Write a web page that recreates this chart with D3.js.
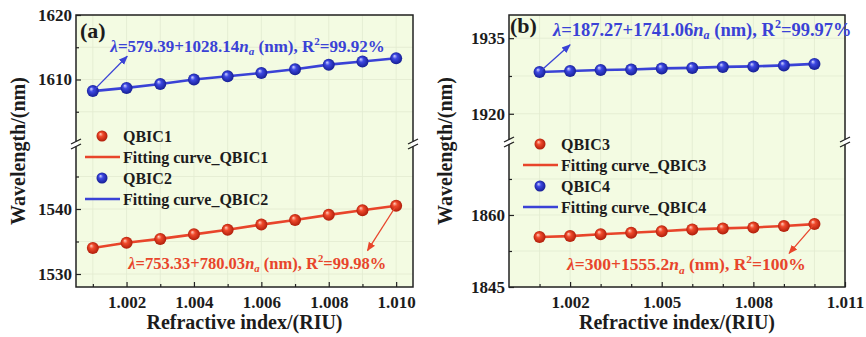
<!DOCTYPE html>
<html>
<head>
<meta charset="utf-8">
<script src="https://cdn.jsdelivr.net/npm/d3@7"></script>
<style>
  body { margin: 0; background: #fff; }
  svg { display: block; }
  text { font-family: "Liberation Serif", "Times New Roman", serif; font-weight: bold; fill: #1c1c1c; }
</style>
</head>
<body>
<svg width="866" height="337"></svg>
<script>
// refractive index samples (same for both panels)
const riu = [1.001, 1.002, 1.003, 1.004, 1.005, 1.006, 1.007, 1.008, 1.009, 1.010];

// wavelengths (nm)
const qbic1 = [1534.0, 1534.8, 1535.4, 1536.1, 1536.8, 1537.6, 1538.3, 1539.1, 1539.8, 1540.5];
const qbic2 = [1608.2, 1608.7, 1609.3, 1610.0, 1610.5, 1611.0, 1611.6, 1612.3, 1612.8, 1613.3];
const qbic3 = [1855.4, 1855.6, 1856.0, 1856.3, 1856.6, 1857.0, 1857.2, 1857.4, 1857.7, 1858.1];
const qbic4 = [1928.3, 1928.5, 1928.7, 1928.8, 1929.0, 1929.1, 1929.3, 1929.4, 1929.6, 1929.9];

// tick values
const xTicksA = [1.002, 1.004, 1.006, 1.008, 1.010];
const xMinorA = [1.001, 1.003, 1.005, 1.007, 1.009];
const xTicksB = [1.002, 1.005, 1.008, 1.011];
const xMinorB = [1.001, 1.003, 1.004, 1.006, 1.007, 1.009, 1.010];
const yTopTicksA = [1610, 1620], yTopMinorA = [1605, 1615];
const yBotTicksA = [1530, 1540], yBotMinorA = [1535, 1545];
const yTopTicksB = [1920, 1935], yTopMinorB = [1927.5];
const yBotTicksB = [1845, 1860], yBotMinorB = [1852.5, 1867.5];

const BLUE = "#3a42d6", RED = "#e8452b";

const svg = d3.select("svg");
const defs = svg.append("defs");

function sphereGrad(id, hi, mid, dark) {
  const gr = defs.append("radialGradient").attr("id", id)
    .attr("cx", "50%").attr("cy", "50%").attr("r", "55%")
    .attr("fx", "35%").attr("fy", "30%");
  gr.append("stop").attr("offset", "0%").attr("stop-color", hi);
  gr.append("stop").attr("offset", "35%").attr("stop-color", mid);
  gr.append("stop").attr("offset", "100%").attr("stop-color", dark);
}
sphereGrad("ballRed", "#ffd0c0", "#f04a2c", "#a81806");
sphereGrad("ballBlue", "#d6d8ff", "#3d48e2", "#121a8c");

function arrowMarker(id, col) {
  defs.append("marker").attr("id", id)
    .attr("viewBox", "0 0 10 10").attr("refX", 9).attr("refY", 5)
    .attr("markerWidth", 7).attr("markerHeight", 7).attr("orient", "auto")
    .append("path").attr("d", "M0,1 L10,5 L0,9 Z").attr("fill", col);
}
arrowMarker("arrBlue", BLUE);
arrowMarker("arrRed", RED);

// equation text with italic lambda, n_a and R^2
function equation(g, x, y, size, col, a, b, r2) {
  const t = g.append("text").attr("x", x).attr("y", y)
    .style("font-size", size + "px").style("fill", col);
  t.append("tspan").style("font-style", "italic").text("λ");
  t.append("tspan").text("=" + a + "+" + b);
  t.append("tspan").style("font-style", "italic").text("n");
  t.append("tspan").style("font-style", "italic").style("font-size", "0.65em").attr("dy", "0.3em").text("a");
  t.append("tspan").attr("dy", "-0.2em").text(" (nm), R");
  t.append("tspan").style("font-size", "0.65em").attr("dy", "-0.6em").text("2");
  t.append("tspan").attr("dy", "0.4em").text("=" + r2);
}

function drawPanel(p) {
  const g = svg.append("g");
  const x = d3.scaleLinear().domain(p.xDomain).range([p.left, p.right]);
  const yTop = d3.scaleLinear().domain(p.yTopDomain).range([p.breakY, p.top]);
  const yBot = d3.scaleLinear().domain(p.yBotDomain).range([p.bottom, p.breakY]);
  const y = v => v >= p.yTopDomain[0] ? yTop(v) : yBot(v);

  g.append("rect").attr("x", p.left).attr("y", p.top)
    .attr("width", p.right - p.left).attr("height", p.bottom - p.top)
    .attr("fill", "#f3fbe2");

  // faint grid
  g.selectAll(".vgrid").data(p.xTicks.concat(p.xMinor)).enter().append("line")
    .attr("x1", d => x(d)).attr("x2", d => x(d))
    .attr("y1", p.top).attr("y2", p.bottom)
    .attr("stroke", "#e2ebd0").attr("stroke-width", 0.8);
  g.selectAll(".hgrid").data(p.yTopTicks.concat(p.yTopMinor, p.yBotTicks, p.yBotMinor)).enter().append("line")
    .attr("x1", p.left).attr("x2", p.right)
    .attr("y1", d => y(d)).attr("y2", d => y(d))
    .attr("stroke", "#e2ebd0").attr("stroke-width", 0.8);

  // axes, ticks point inward
  const xa = g.append("g").attr("transform", "translate(0," + p.bottom + ")")
    .call(d3.axisBottom(x).tickValues(p.xTicks).tickSizeInner(-5).tickSizeOuter(0)
      .tickPadding(9).tickFormat(d3.format(".3f")));
  g.append("g").attr("transform", "translate(0," + p.bottom + ")")
    .call(d3.axisBottom(x).tickValues(p.xMinor).tickSizeInner(-3).tickSizeOuter(0).tickFormat(""));
  const ya1 = g.append("g").attr("transform", "translate(" + p.left + ",0)")
    .call(d3.axisLeft(yTop).tickValues(p.yTopTicks).tickSizeInner(-5).tickSizeOuter(0)
      .tickPadding(4).tickFormat(d3.format("d")));
  const ya2 = g.append("g").attr("transform", "translate(" + p.left + ",0)")
    .call(d3.axisLeft(yBot).tickValues(p.yBotTicks).tickSizeInner(-5).tickSizeOuter(0)
      .tickPadding(4).tickFormat(d3.format("d")));
  g.append("g").attr("transform", "translate(" + p.left + ",0)")
    .call(d3.axisLeft(yTop).tickValues(p.yTopMinor).tickSizeInner(-3).tickSizeOuter(0).tickFormat(""));
  g.append("g").attr("transform", "translate(" + p.left + ",0)")
    .call(d3.axisLeft(yBot).tickValues(p.yBotMinor).tickSizeInner(-3).tickSizeOuter(0).tickFormat(""));
  g.selectAll(".domain").remove();
  g.selectAll(".tick line").attr("stroke", "#222").attr("stroke-width", 1.2);
  [xa, ya1, ya2].forEach(a => a.selectAll("text")
    .style("font-size", "17px").style("font-family", "'Liberation Serif', serif")
    .style("font-weight", "bold").attr("fill", "#1c1c1c"));

  // frame
  g.append("rect").attr("x", p.left).attr("y", p.top)
    .attr("width", p.right - p.left).attr("height", p.bottom - p.top)
    .attr("fill", "none").attr("stroke", "#222").attr("stroke-width", 1.5);

  // axis break marks
  [p.left, p.right].forEach(bx => {
    g.append("rect").attr("x", bx - 2).attr("y", p.breakY - 2.5).attr("width", 4).attr("height", 5).attr("fill", "#fff");
    [-2.5, 2.5].forEach(o => g.append("line")
      .attr("x1", bx - 5).attr("y1", p.breakY + o + 2.5)
      .attr("x2", bx + 5).attr("y2", p.breakY + o - 2.5)
      .attr("stroke", "#222").attr("stroke-width", 1.3));
  });

  // series
  const line = d3.line().x(d => x(d[0])).y(d => y(d[1]));
  p.series.forEach(s => {
    const pts = riu.map((r, i) => [r, s.values[i]]);
    g.append("path").datum(pts).attr("d", line)
      .attr("fill", "none").attr("stroke", s.color).attr("stroke-width", 2.6);
    g.selectAll(null).data(pts).enter().append("circle")
      .attr("cx", d => x(d[0])).attr("cy", d => y(d[1])).attr("r", 6)
      .attr("fill", "url(#" + s.ball + ")");
  });

  // legend
  const lg = g.append("g").attr("transform", "translate(" + (p.left + p.legendDx) + "," + p.legendY + ")");
  p.series.forEach((s, i) => {
    const r0 = i * 42;
    lg.append("circle").attr("cx", 17).attr("cy", r0).attr("r", 5.5).attr("fill", "url(#" + s.ball + ")");
    lg.append("text").attr("x", 38).attr("y", r0 + 5.5).style("font-size", "16px").text(s.name);
    lg.append("line").attr("x1", 0).attr("x2", 35).attr("y1", r0 + 21).attr("y2", r0 + 21)
      .attr("stroke", s.color).attr("stroke-width", 2.4);
    lg.append("text").attr("x", 38).attr("y", r0 + 26.5).style("font-size", "16px").text("Fitting curve_" + s.name);
  });

  // equations with arrows
  p.notes.forEach(n => {
    const s = p.series[n.series];
    const last = n.from === "first" ? 0 : riu.length - 1;
    g.append("line")
      .attr("x1", x(riu[last])).attr("y1", y(s.values[last]))
      .attr("x2", x(n.to[0])).attr("y2", y(n.to[1]))
      .attr("stroke", s.color).attr("stroke-width", 1.3)
      .attr("marker-end", "url(#" + s.arrow + ")");
    equation(g, x(n.at[0]), y(n.at[1]), n.size, s.color, n.eq[0], n.eq[1], n.eq[2]);
  });

  g.append("text").attr("x", p.left + p.labelDx).attr("y", p.top + p.labelDy)
    .style("font-size", "22px").text(p.label);

  g.append("text").attr("x", (p.left + p.right) / 2).attr("y", 329)
    .attr("text-anchor", "middle").style("font-size", "20px").text("Refractive index/(RIU)");
  g.append("text").attr("transform", "translate(" + p.yTitleX + ",151) rotate(-90)")
    .attr("text-anchor", "middle").attr("dy", "0.35em").style("font-size", "20px").text("Wavelength/(nm)");
}

drawPanel({
  left: 76, right: 413, top: 15, bottom: 287, breakY: 144,
  xDomain: [1.0005, 1.0105], xTicks: xTicksA, xMinor: xMinorA,
  yTopDomain: [1600, 1620], yBotDomain: [1528, 1550],
  yTopTicks: yTopTicksA, yTopMinor: yTopMinorA, yBotTicks: yBotTicksA, yBotMinor: yBotMinorA,
  series: [
    { name: "QBIC1", values: qbic1, color: RED, ball: "ballRed", arrow: "arrRed" },
    { name: "QBIC2", values: qbic2, color: BLUE, ball: "ballBlue", arrow: "arrBlue" }
  ],
  legendDx: 9, legendY: 136,
  notes: [
    { series: 1, from: "first", to: [1.00202, 1613.6], at: [1.00152, 1614.3], size: 17, eq: ["579.39", "1028.14", "99.92%"] },
    { series: 0, from: "last", to: [1.00915, 1533.6], at: [1.00205, 1530.8], size: 16.5, eq: ["753.33", "780.03", "99.98%"] }
  ],
  label: "(a)", labelDx: 4, labelDy: 23, yTitleX: 17.5
});

drawPanel({
  left: 509, right: 845, top: 15, bottom: 287, breakY: 142,
  xDomain: [1.000, 1.011], xTicks: xTicksB, xMinor: xMinorB,
  yTopDomain: [1914.4, 1939.6], yBotDomain: [1845, 1875.2],
  yTopTicks: yTopTicksB, yTopMinor: yTopMinorB, yBotTicks: yBotTicksB, yBotMinor: yBotMinorB,
  series: [
    { name: "QBIC3", values: qbic3, color: RED, ball: "ballRed", arrow: "arrRed" },
    { name: "QBIC4", values: qbic4, color: BLUE, ball: "ballBlue", arrow: "arrBlue" }
  ],
  legendDx: 14, legendY: 144,
  notes: [
    { series: 1, from: "first", to: [1.00200, 1933.7], at: [1.00144, 1935.5], size: 18.5, eq: ["187.27", "1741.06", "99.97%"] },
    { series: 0, from: "last", to: [1.00917, 1852.0], at: [1.0019, 1848.5], size: 17.5, eq: ["300", "1555.2", "100%"] }
  ],
  label: "(b)", labelDx: 1, labelDy: 18, yTitleX: 445
});
</script>
</body>
</html>
